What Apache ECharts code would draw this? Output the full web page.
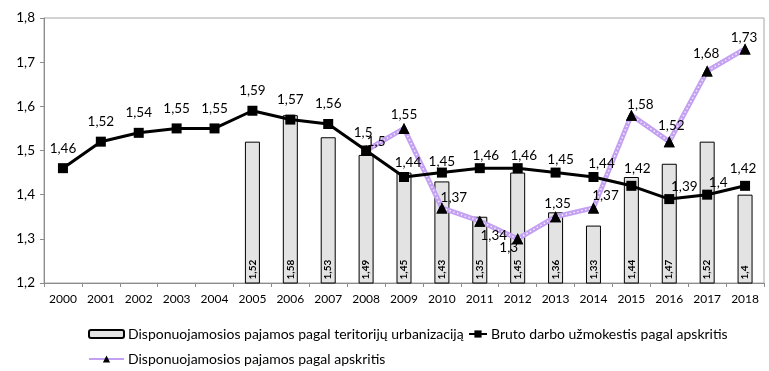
<!DOCTYPE html>
<html><head><meta charset="utf-8">
<script src="https://cdn.jsdelivr.net/npm/echarts@6/dist/echarts.min.js"></script>
<style>html,body{margin:0;padding:0;background:#fff}#c{width:769px;height:371px}</style>
</head><body><div id="c"></div>
<script>
const years = ['2000','2001','2002','2003','2004','2005','2006','2007','2008','2009','2010','2011','2012','2013','2014','2015','2016','2017','2018'];
const barValues = [null,null,null,null,null,1.52,1.58,1.53,1.49,1.45,1.43,1.35,1.45,1.36,1.33,1.44,1.47,1.52,1.4];
const wageValues = [1.46,1.52,1.54,1.55,1.55,1.59,1.57,1.56,1.5,1.44,1.45,1.46,1.46,1.45,1.44,1.42,1.39,1.4,1.42];
const incomeValues = [null,null,null,null,null,null,null,null,1.5,1.55,1.37,1.34,1.3,1.35,1.37,1.58,1.52,1.68,1.73];
const names = ['Disponuojamosios pajamos pagal teritorijų urbanizaciją','Bruto darbo užmokestis pagal apskritis','Disponuojamosios pajamos pagal apskritis'];

const FONT = 'Lato';
const fmt = v => String(v).replace('.', ',');

// label centre offsets from the point (index -> [dx, dy])
const incomeLabelPos = {8:[10,-9],9:[0,-14],10:[12,-10],11:[14,14],12:[-9,9],13:[2,-13],14:[12,-12],15:[9,-11],16:[2,-16],17:[-1,-17],18:[-1,-11]};
const wageLabelPos = {8:[-3,-18],9:[4,-14],10:[0,-11],11:[6,-13],12:[6,-13],13:[5,-13],14:[8,-13],15:[6,-17],16:[15,-12],17:[11,-12],18:[-2,-17]};
const wageDefault = [0,-20];

const legendText = {fontFamily:FONT,fontSize:14,color:'#000',padding:[0,0,0,-1]};
const labelBase = {show:true,position:'inside',align:'center',verticalAlign:'middle',
  fontFamily:FONT,fontSize:13.5,color:'#000',textBorderWidth:0,formatter:p=>fmt(p.value)};

const chart = echarts.init(document.getElementById('c'));
chart.setOption({
  animation:false,
  textStyle:{fontFamily:FONT},
  grid:{left:44,right:5,top:18,bottom:88,show:true,borderColor:'#a6a6a6',borderWidth:1},
  legend:[
    {left:83,top:322,itemWidth:35,itemHeight:8,data:[names[0]],textStyle:legendText},
    {left:463,top:322,itemWidth:18,itemHeight:9,data:[names[1]],textStyle:legendText},
    {left:83,top:347,itemWidth:35,itemHeight:9,data:[names[2]],textStyle:legendText}
  ],
  xAxis:{type:'category',data:years,boundaryGap:true,
    axisLine:{lineStyle:{color:'#8c8c8c'}},
    axisTick:{show:true,length:4,lineStyle:{color:'#8c8c8c'}},
    axisLabel:{fontFamily:FONT,fontSize:12,color:'#000',margin:10}},
  yAxis:{type:'value',min:1.2,max:1.8,interval:0.1,
    axisLine:{show:true,lineStyle:{color:'#8c8c8c'}},
    axisTick:{show:true,length:4,lineStyle:{color:'#8c8c8c'}},
    splitLine:{show:false},
    axisLabel:{fontFamily:FONT,fontSize:13.5,color:'#000',margin:9,formatter:v=>v.toFixed(1).replace('.',',')}},
  series:[
    {name:names[0],type:'bar',data:barValues,barWidth:15,z:1,
     itemStyle:{color:'#e3e3e3',borderColor:'#000',borderWidth:1},
     label:{show:true,position:'insideBottom',rotate:90,align:'left',verticalAlign:'middle',distance:4,
       fontFamily:FONT,fontSize:10,fontWeight:'bold',color:'#000',formatter:p=>fmt(p.value)}},
    {name:names[1],type:'line',z:5,
     data:wageValues.map((v,i)=>({value:v,label:{offset:wageLabelPos[i]||wageDefault}})),
     symbol:'rect',symbolSize:10,itemStyle:{color:'#000'},lineStyle:{color:'#000',width:3},
     label:labelBase},
    {name:names[2],type:'line',z:3,data:incomeValues,connectNulls:false,
     symbol:'triangle',symbolSize:11,itemStyle:{color:'#000'},
     lineStyle:{color:'#c3a0f2',width:5}},
    {name:'dots',type:'line',z:4,data:incomeValues,silent:true,showSymbol:false,symbol:'none',
     lineStyle:{color:'#f3ecfd',width:1.5,type:[1.5,2.5]}},
    {name:'tri',type:'line',z:6,silent:true,
     data:incomeValues.map((v,i)=>({value:v,label:{offset:incomeLabelPos[i]||[0,-14]}})),
     symbol:'triangle',symbolSize:11,itemStyle:{color:'#000'},lineStyle:{opacity:0,width:0},
     label:labelBase}
  ]
});
</script>
</body></html>
